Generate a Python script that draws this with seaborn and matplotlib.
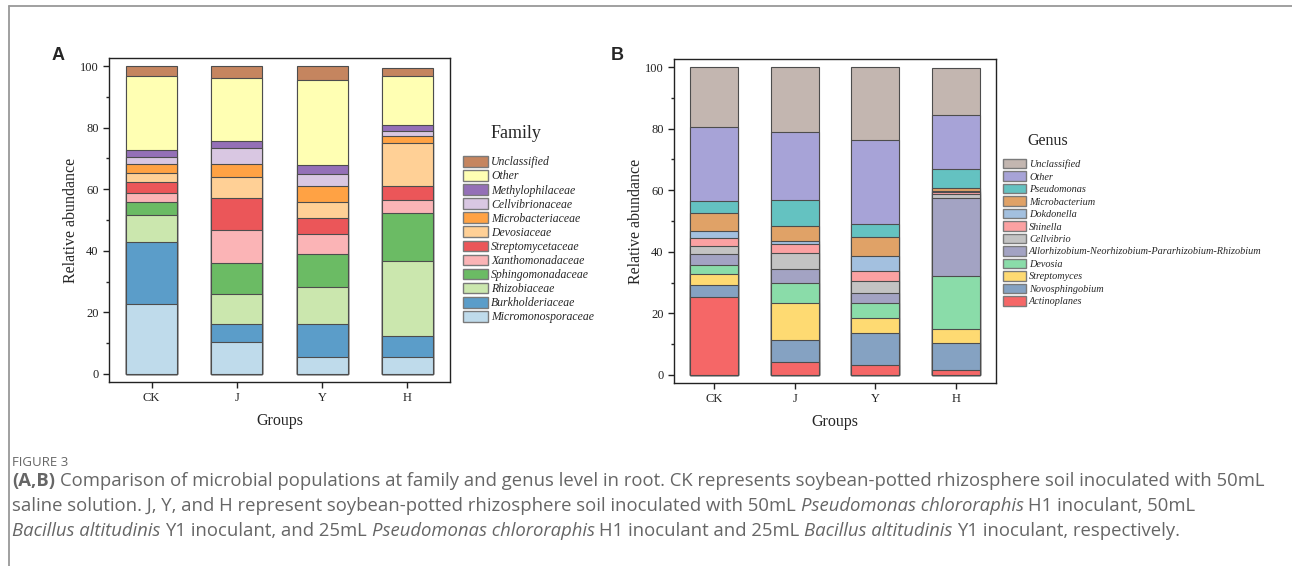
import numpy as np
import pandas as pd
import seaborn as sns
import matplotlib.pyplot as plt
from matplotlib.patches import Patch
from matplotlib.lines import Line2D

sns.set_style("ticks")
plt.rcParams['font.family'] = ['Liberation Serif', 'DejaVu Serif']

groups = ["CK", "J", "Y", "H"]

# family level, listed from bottom of the stack to the top
family_names = ["Micromonosporaceae", "Burkholderiaceae", "Rhizobiaceae", "Sphingomonadaceae",
                "Xanthomonadaceae", "Streptomycetaceae", "Devosiaceae", "Microbacteriaceae",
                "Cellvibrionaceae", "Methylophilaceae", "Other", "Unclassified"]
family_ck = [22.6, 20.4, 8.5, 4.5, 2.8, 3.6, 3.0, 2.8, 2.3, 2.3, 24.0, 3.2]
family_j = [10.3, 5.9, 9.9, 10.1, 10.4, 10.7, 6.6, 4.3, 5.3, 2.2, 20.5, 3.8]
family_y = [5.4, 10.7, 12.3, 10.7, 6.2, 5.2, 5.2, 5.5, 3.8, 3.0, 27.6, 4.4]
family_h = [5.4, 6.8, 24.6, 15.6, 4.0, 4.8, 13.9, 2.3, 1.6, 1.8, 16.1, 2.5]
family_colors = ["#bfdbeb", "#5b9dc9", "#cbe7ae", "#6bbb64", "#fbb4b6", "#eb5659",
                 "#ffd096", "#ffa244", "#d9c7e2", "#9470b7", "#ffffb3", "#c5855f"]

# genus level, bottom to top
genus_names = ["Actinoplanes", "Novosphingobium", "Streptomyces", "Devosia",
               "Allorhizobium-Neorhizobium-Pararhizobium-Rhizobium", "Cellvibrio", "Shinella",
               "Dokdonella", "Microbacterium", "Pseudomonas", "Other", "Unclassified"]
genus_ck = [25.3, 3.9, 3.7, 2.7, 3.7, 2.5, 2.6, 2.3, 6.0, 3.7, 24.2, 19.5]
genus_j = [4.3, 7.0, 12.0, 6.5, 4.5, 5.3, 2.8, 1.2, 4.7, 8.4, 22.1, 21.1]
genus_y = [3.2, 10.4, 4.9, 4.9, 3.2, 3.9, 3.2, 5.0, 6.0, 4.3, 27.3, 23.7]
genus_h = [1.5, 8.8, 4.7, 17.3, 25.2, 1.3, 0.5, 0.4, 0.9, 6.3, 17.5, 15.3]
genus_colors = ["#f56767", "#85a2c2", "#feda72", "#8adca9", "#a3a3c3", "#c3c3c3",
                "#fba1a2", "#a3c0df", "#e0a267", "#64c2c1", "#a7a3d7", "#c3b6b0"]

W, H = 1292, 566
fig = plt.figure(figsize=(W / 100, H / 100), dpi=100)


def px(x0, y0, x1, y1):
    # pixel box (top-left origin) -> figure fraction rect
    return [x0 / W, 1 - y1 / H, (x1 - x0) / W, (y1 - y0) / H]


def stacked(ax, names, cols, colors):
    df = pd.DataFrame(dict(zip(groups, cols)), index=names)
    cum = df.cumsum()
    # draw the running totals from the top down so each layer sits on the one below
    for name, c in zip(names[::-1], colors[::-1]):
        d = pd.DataFrame({"group": groups, "top": cum.loc[name].values})
        sns.barplot(data=d, x="group", y="top", order=groups, color=c, saturation=1,
                    width=0.6, edgecolor="#4d4d4d", linewidth=0.8, errorbar=None, ax=ax)
    ax.set_xlim(-0.5, 3.5)
    ax.set_ylim(-2.6, 102.6)
    ax.set_yticks(np.arange(0, 101, 20))
    ax.set_yticks(np.arange(10, 100, 20), minor=True)
    ax.tick_params(axis="both", which="major", direction="out", length=4, width=1,
                   labelsize=9, colors="#222222")
    ax.tick_params(axis="y", which="minor", direction="out", length=2.5, width=1)
    for s in ax.spines.values():
        s.set_visible(True)
        s.set_linewidth(1)
        s.set_color("#222222")
    ax.set_xlabel("Groups", fontsize=11.5, labelpad=6)
    ax.set_ylabel("Relative abundance", fontsize=11.5, labelpad=0.5)


axA = fig.add_axes(px(109, 58, 450, 382))
stacked(axA, family_names, [family_ck, family_j, family_y, family_h], family_colors)
axB = fig.add_axes(px(674, 59, 996, 383))
stacked(axB, genus_names, [genus_ck, genus_j, genus_y, genus_h], genus_colors)


def legend(ax, names, colors, anchor, size, hl, hh, ls):
    handles = [Patch(facecolor=c, edgecolor="#7a7a7a", linewidth=1) for c in colors[::-1]]
    ax.legend(handles, names[::-1], loc="upper left", bbox_to_anchor=anchor,
              bbox_transform=fig.transFigure, frameon=False,
              prop=dict(family="Liberation Serif", style="italic", size=size),
              handlelength=hl, handleheight=hh, labelspacing=ls, handletextpad=0.3,
              borderpad=0, borderaxespad=0)


legend(axA, family_names, family_colors, (463 / W, 1 - 156 / H), 8.5, 2.1, 1.0, 0.15)
legend(axB, genus_names, genus_colors, (1003 / W, 1 - 159 / H), 7.35, 2.25, 1.05, 0.22)
fig.text(491 / W, 1 - 133 / H, "Family", fontsize=13, va="center", ha="left")
fig.text(1027 / W, 1 - 141 / H, "Genus", fontsize=11.5, va="center", ha="left")

fig.text(58 / W, 1 - 56 / H, "A", fontsize=13, fontweight="bold", family="Liberation Sans",
         ha="center", va="center")
fig.text(617 / W, 1 - 55 / H, "B", fontsize=13, fontweight="bold", family="Liberation Sans",
         ha="center", va="center")

# frame lines of the figure page
fig.add_artist(Line2D([9 / W, 1], [1 - 6 / H, 1 - 6 / H], color="#999999", lw=1.3,
                      transform=fig.transFigure))
fig.add_artist(Line2D([9 / W, 9 / W], [0, 1 - 6 / H], color="#999999", lw=1.3,
                      transform=fig.transFigure))

# caption
cap_font = dict(family=["Open Sans", "DejaVu Sans"], size=13.3, color="#666666")
fig.text(12 / W, 1 - 462 / H, "FIGURE 3", va="center", ha="left",
         family=["Open Sans", "DejaVu Sans"], size=9.5, color="#666666")

renderer = fig.canvas.get_renderer()
t1 = fig.text(0, 0, "a a", **cap_font)
t2 = fig.text(0, 0, "aa", **cap_font)
space = t1.get_window_extent(renderer).width - t2.get_window_extent(renderer).width
t1.remove()
t2.remove()


def caption_line(y, parts):
    x = 12
    for txt, style, weight in parts:
        if txt.startswith(" "):
            x += space
        t = fig.text(x / W, 1 - y / H, txt.strip(), va="center", ha="left",
                     style=style, weight=weight, **cap_font)
        x = t.get_window_extent(renderer).x1
        if txt.endswith(" "):
            x += space


caption_line(481, [("(A,B)", "normal", "bold"),
                   (" Comparison of microbial populations at family and genus level in root. "
                    "CK represents soybean-potted rhizosphere soil inoculated with 50mL",
                    "normal", "normal")])
caption_line(506, [("saline solution. J, Y, and H represent soybean-potted rhizosphere soil "
                    "inoculated with 50mL ", "normal", "normal"),
                   ("Pseudomonas chlororaphis", "italic", "normal"),
                   (" H1 inoculant, 50mL", "normal", "normal")])
caption_line(531, [("Bacillus altitudinis", "italic", "normal"),
                   (" Y1 inoculant, and 25mL ", "normal", "normal"),
                   ("Pseudomonas chlororaphis", "italic", "normal"),
                   (" H1 inoculant and 25mL ", "normal", "normal"),
                   ("Bacillus altitudinis", "italic", "normal"),
                   (" Y1 inoculant, respectively.", "normal", "normal")])

fig.savefig("out.png", dpi=100)
